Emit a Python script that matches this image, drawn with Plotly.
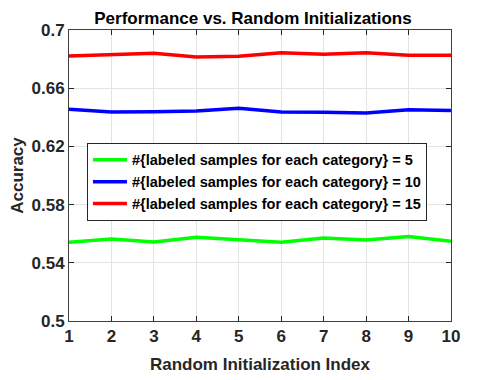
import plotly.graph_objects as go

init_index = [1, 2, 3, 4, 5, 6, 7, 8, 9, 10]
acc_5 = [0.5541, 0.5564, 0.5543, 0.5575, 0.5559, 0.5541, 0.5571, 0.5557, 0.5580, 0.5548]
acc_10 = [0.6455, 0.6436, 0.6438, 0.6443, 0.6462, 0.6436, 0.6435, 0.6430, 0.6452, 0.6446]
acc_15 = [0.6821, 0.6833, 0.6840, 0.6814, 0.6820, 0.6844, 0.6833, 0.6844, 0.6826, 0.6826]
y_ticks = [0.5, 0.54, 0.58, 0.62, 0.66, 0.7]
y_ticktext = ["0.5", "0.54", "0.58", "0.62", "0.66", "0.7"]

series = [
    (acc_5, "#00ff00", "#{labeled samples for each category} = 5"),
    (acc_10, "#0000ff", "#{labeled samples for each category} = 10"),
    (acc_15, "#ff0000", "#{labeled samples for each category} = 15"),
]

fig = go.Figure()
for y, color, name in series:
    fig.add_trace(go.Scatter(x=init_index, y=y, mode="lines", name="<b>%s</b>" % name,
                             line=dict(color=color, width=3.5)))

axis_common = dict(
    showline=True, linecolor="#404040", linewidth=1, mirror="ticks",
    ticks="inside", ticklen=5, tickcolor="#262626",
    showgrid=True, gridcolor="#e3e3e3", gridwidth=1, zeroline=False,
    tickfont=dict(size=17, color="#262626"), automargin=False,
)

# the page body adds 8px around the plot div, so the figure is 8px smaller
fig.update_layout(
    width=490, height=372,
    title=dict(text="<b>Performance vs. Random Initializations</b>",
               x=0.5, xanchor="center", y=0.972, yanchor="middle",
               font=dict(size=17, color="black")),
    font=dict(family="Liberation Sans, Arial, sans-serif", color="#262626"),
    plot_bgcolor="white", paper_bgcolor="white",
    margin=dict(l=61, r=47, t=22, b=59),
    xaxis=dict(axis_common, range=[1, 10], tickvals=init_index,
               ticktext=["<b>%d</b>" % i for i in init_index],
               title=dict(text="<b>Random Initialization Index</b>", font=dict(size=17), standoff=12)),
    yaxis=dict(axis_common, range=[0.5, 0.7], tickvals=y_ticks,
               ticktext=["<b>%s</b>" % t for t in y_ticktext],
               title=dict(text="<b>Accuracy</b>", font=dict(size=17), standoff=6)),
    legend=dict(x=0.047, y=0.612, xanchor="left", yanchor="top",
                bgcolor="white", bordercolor="#262626", borderwidth=1,
                font=dict(size=14.5, color="black"), itemwidth=34,
                tracegroupgap=0),
    showlegend=True,
)

fig.write_html("out.html")
